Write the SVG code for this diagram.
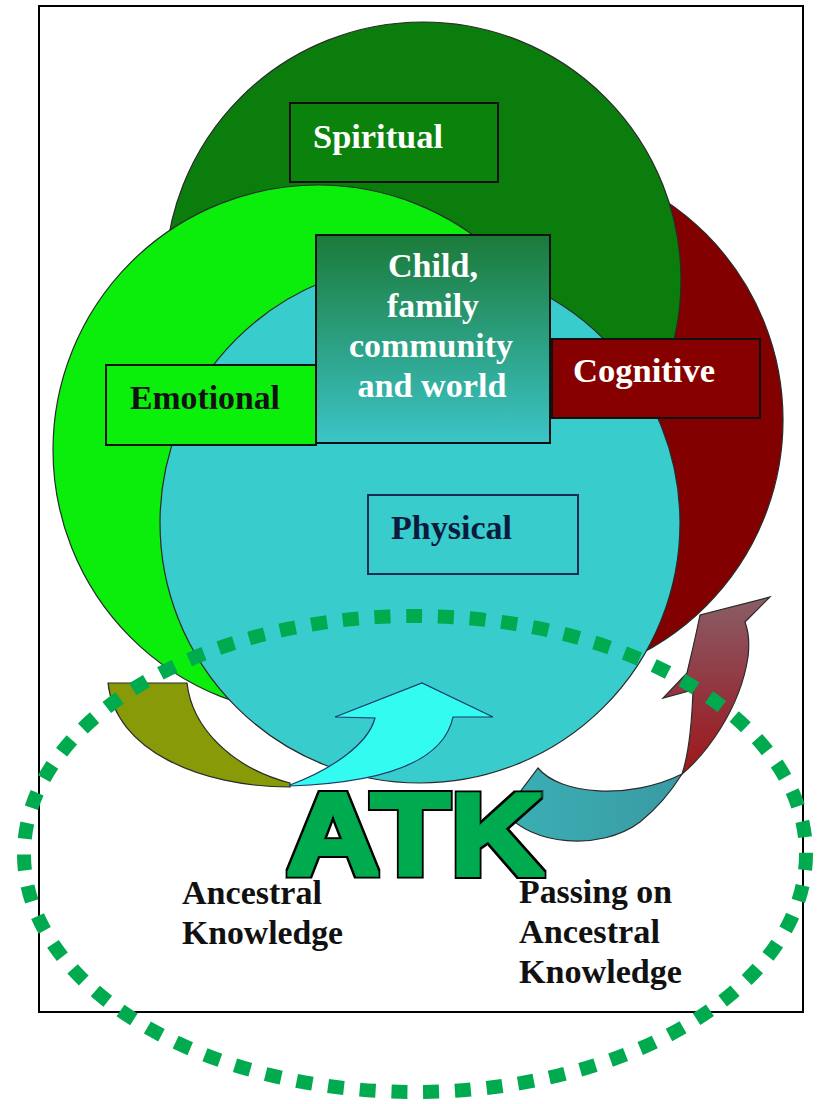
<svg xmlns="http://www.w3.org/2000/svg" width="818" height="1104" viewBox="0 0 818 1104">
<style>
.circ{stroke:#2a2a2a;stroke-width:1.2}
.box{stroke:#111;stroke-width:2}
.lbl{font-family:"Liberation Serif","Times New Roman",serif;font-weight:bold;font-size:33px}
.w{fill:#ffffff}
.btxt{font-family:"Liberation Serif","Times New Roman",serif;font-weight:bold;font-size:33px;fill:#111}
.arr{stroke:#2a2a2a;stroke-width:1.2}
.atk{font-family:"Liberation Sans",Arial,sans-serif;font-weight:bold;font-size:117px}
</style>
<defs>
<linearGradient id="gChild" x1="0" y1="0" x2="0" y2="1">
<stop offset="0" stop-color="#1b7a38"/>
<stop offset="1" stop-color="#3cc4c8"/>
</linearGradient>
<linearGradient id="gMaroon" x1="0" y1="0" x2="0" y2="1">
<stop offset="0" stop-color="#8a5e66"/>
<stop offset="0.6" stop-color="#94303a"/>
<stop offset="1" stop-color="#a01818"/>
</linearGradient>
<linearGradient id="gTeal" x1="0" y1="0" x2="1" y2="0">
<stop offset="0" stop-color="#3ab0b4"/>
<stop offset="1" stop-color="#3a9aa4"/>
</linearGradient>
<filter id="heavy" x="-10%" y="-20%" width="120%" height="140%">
<feMorphology in="SourceAlpha" operator="dilate" radius="4" result="outer"/>
<feFlood flood-color="#000000" result="k"/>
<feComposite in="k" in2="outer" operator="in" result="blk"/>
<feMorphology in="SourceAlpha" operator="dilate" radius="1.8" result="inner"/>
<feFlood flood-color="#00aa4f" result="g"/>
<feComposite in="g" in2="inner" operator="in" result="grn"/>
<feMerge><feMergeNode in="blk"/><feMergeNode in="grn"/></feMerge>
</filter>
</defs>
<rect x="0" y="0" width="818" height="1104" fill="#ffffff"/>
<rect x="39" y="6" width="764" height="1006" fill="#ffffff" stroke="#000" stroke-width="2"/>

<g id="circles">
<circle cx="520" cy="420" r="263" fill="#820000" class="circ"/>
<circle cx="423" cy="280" r="258" fill="#0a7d0d" class="circ"/>
<circle cx="318" cy="450" r="265" fill="#0bee0b" class="circ"/>
<circle cx="420" cy="523" r="260" fill="#38cccc" class="circ"/>
</g>

<g id="spiritual">
<rect x="290" y="103" width="208" height="79" fill="#0a820c" class="box"/>
<text x="313" y="148" class="lbl w" textLength="130" lengthAdjust="spacingAndGlyphs">Spiritual</text>
</g>

<g id="child">
<rect x="316" y="235" width="234" height="208" fill="url(#gChild)" class="box"/>
<text x="433" y="277" class="lbl w" text-anchor="middle" textLength="90" lengthAdjust="spacingAndGlyphs">Child,</text>
<text x="433" y="317" class="lbl w" text-anchor="middle" textLength="92" lengthAdjust="spacingAndGlyphs">family</text>
<text x="431" y="357" class="lbl w" text-anchor="middle" textLength="164" lengthAdjust="spacingAndGlyphs">community</text>
<text x="432" y="397" class="lbl w" text-anchor="middle" textLength="149" lengthAdjust="spacingAndGlyphs">and world</text>
</g>

<g id="cognitive">
<rect x="552" y="339" width="208" height="79" fill="#860000" class="box"/>
<text x="573" y="382" class="lbl w" textLength="142" lengthAdjust="spacingAndGlyphs">Cognitive</text>
</g>

<g id="emotional">
<rect x="106" y="365" width="210" height="80" fill="#0bf00b" class="box"/>
<text x="130" y="409" class="lbl" fill="#111" textLength="150" lengthAdjust="spacingAndGlyphs">Emotional</text>
</g>

<g id="physical">
<rect x="368" y="495" width="210" height="79" fill="#38cccc" stroke="#1a2a5a" stroke-width="2"/>
<text x="391" y="539" class="lbl" fill="#0c1a3c" textLength="121" lengthAdjust="spacingAndGlyphs">Physical</text>
</g>

<g id="connectors">
<path class="arr" fill="#889a08" d="M108,683 L187,683 C192,728 232,768 290,783 L290,787 C200,787 115,750 108,683 Z"/>
<path d="M290,785 C330,770 368,745 375,718 L335,717 L422,683 L493,717 L453,717 C445,755 400,782 290,786 Z" fill="#33fbef" stroke="#1a3a6a" stroke-width="1.2"/>
<path class="arr" fill="url(#gTeal)" d="M682,774 C630,800 560,795 538,768 L505,812 C530,845 600,852 640,822 C660,806 672,790 682,774 Z"/>
<path class="arr" fill="url(#gMaroon)" d="M682,774 C705,755 740,710 748,657 C750,640 748,630 745,622 L770,597 L700,615 C695,640 690,660 687,673 L663,698 L693,690 C692,720 690,750 682,774 Z"/>
</g>

<g id="atk">
<text x="286" y="875" class="atk" fill="#00aa4f" filter="url(#heavy)" textLength="258" lengthAdjust="spacingAndGlyphs">ATK</text>
</g>

<g id="ancestral">
<text x="182" y="904" class="btxt" textLength="140" lengthAdjust="spacingAndGlyphs">Ancestral</text>
<text x="182" y="944" class="btxt" textLength="161" lengthAdjust="spacingAndGlyphs">Knowledge</text>
</g>

<g id="passing">
<text x="519" y="903" class="btxt" textLength="153" lengthAdjust="spacingAndGlyphs">Passing on</text>
<text x="519" y="943" class="btxt" textLength="141" lengthAdjust="spacingAndGlyphs">Ancestral</text>
<text x="519" y="983" class="btxt" textLength="163" lengthAdjust="spacingAndGlyphs">Knowledge</text>
</g>

<g id="ellipse">
<ellipse cx="415" cy="854" rx="391" ry="238" fill="none" stroke="#00aa4f" stroke-width="14" stroke-dasharray="16 15.8"/>
</g>
</svg>
